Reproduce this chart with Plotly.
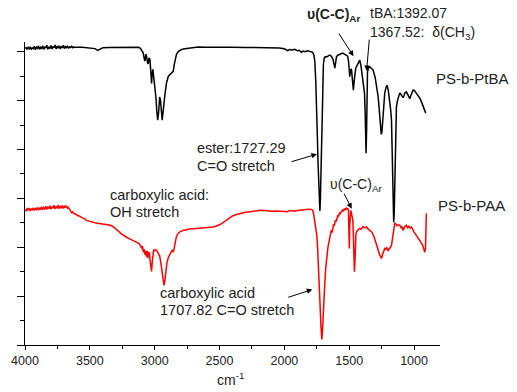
import plotly.graph_objects as go

# ---- FTIR spectra (wavenumber in cm-1, offset transmittance in arbitrary units) ----
ptba_wn = [4000, 3992, 3984, 3976, 3968, 3960, 3952, 3944, 3936, 3928, 3920, 3912, 3904, 3896, 3888, 3880,
           3872, 3864, 3856, 3848, 3840, 3832, 3824, 3816, 3808, 3800, 3792, 3784, 3776, 3768, 3760, 3752,
           3744, 3736, 3728, 3720, 3712, 3704, 3696, 3688, 3680, 3672, 3664, 3656, 3648, 3640, 3632, 3624,
           3616, 3608, 3600,
           3560, 3500, 3460, 3440, 3425, 3400, 3350, 3300, 3250, 3200, 3150, 3125, 3110, 3098, 3088, 3080,
           3075, 3068, 3062, 3055, 3050, 3044, 3037, 3030, 3024, 3019, 3014, 3008, 3000, 2991, 2984, 2977,
           2970, 2962, 2955, 2948, 2942, 2935, 2928, 2921, 2910, 2896, 2880, 2866, 2857, 2850, 2844, 2832,
           2819, 2800, 2780, 2740, 2700, 2667, 2600, 2500, 2400, 2300, 2200, 2100, 2040, 2000, 1975, 1960,
           1940, 1920, 1900, 1885, 1870, 1855, 1840, 1820, 1805, 1790, 1781, 1772, 1765, 1758, 1752, 1746,
           1740, 1734, 1729, 1726, 1722, 1716, 1710, 1704, 1699, 1692, 1684, 1675, 1662, 1650, 1638, 1626,
           1617, 1611, 1605, 1598, 1588, 1575, 1562, 1550, 1540, 1530, 1521, 1512, 1505, 1500, 1496, 1491,
           1486, 1482, 1477, 1472, 1468, 1462, 1455, 1449, 1444, 1432, 1419, 1410, 1403, 1398, 1392, 1387,
           1382, 1377, 1373, 1370, 1366, 1362, 1359, 1350, 1341, 1330, 1316, 1300, 1290, 1277, 1268, 1260,
           1253, 1248, 1240, 1232, 1226, 1216, 1208, 1198, 1188, 1180, 1174, 1169, 1164, 1160, 1157, 1153,
           1149, 1144, 1140, 1136, 1128, 1120, 1110, 1100, 1092, 1085, 1078, 1070, 1059, 1050, 1042, 1033,
           1025, 1017, 1008, 998, 988, 978, 969, 958, 948, 940, 931, 920, 910]
ptba_t = [12.14, 12.17, 12.11, 12.18, 12.12, 12.20, 12.09, 12.16, 12.13, 12.22, 12.08, 12.19, 12.14, 12.24, 12.10, 12.18,
          12.12, 12.25, 12.09, 12.21, 12.15, 12.27, 12.10, 12.20, 12.13, 12.26, 12.11, 12.22, 12.16, 12.28, 12.12, 12.21,
          12.15, 12.25, 12.12, 12.22, 12.16, 12.27, 12.13, 12.21, 12.17, 12.24, 12.14, 12.20, 12.18, 12.22, 12.17, 12.20,
          12.18, 12.19, 12.19,
          12.19, 12.17, 12.13, 12.06, 12.10, 12.16, 12.17, 12.18, 12.19, 12.20, 12.21, 12.19, 12.14, 12.05, 11.95, 11.70,
          11.62, 11.90, 11.80, 11.55, 11.50, 11.74, 11.70, 11.20, 10.70, 11.10, 11.28, 11.00, 10.70, 10.16, 9.60, 9.20,
          9.50, 10.15, 10.00, 9.50, 9.20, 9.55, 10.00, 10.25, 10.70, 10.98, 11.08, 11.14, 11.20, 11.45, 11.66, 11.90,
          12.00, 12.08, 12.11, 12.15, 12.18, 12.20, 12.19, 12.20, 12.19, 12.18, 12.18, 12.16, 12.15, 12.12, 12.05, 12.09,
          12.07, 12.10, 12.04, 12.06, 11.98, 12.03, 12.00, 12.04, 12.02, 12.01, 11.98, 11.85, 11.60, 10.80, 10.00, 8.60,
          7.40, 6.10, 5.55, 5.49, 6.00, 7.40, 9.00, 10.60, 11.50, 11.75, 11.80, 11.79, 11.84, 11.86, 11.82, 11.70,
          11.50, 11.33, 11.55, 11.80, 11.86, 11.90, 11.93, 11.95, 11.91, 11.88, 11.86, 11.82, 11.60, 11.20, 10.98, 11.20,
          11.30, 11.25, 10.90, 10.50, 10.43, 10.80, 11.20, 11.35, 11.39, 11.55, 11.66, 11.45, 11.10, 10.84, 10.60, 10.43,
          10.30, 9.50, 8.50, 7.85, 8.80, 10.50, 11.18, 11.35, 11.39, 11.33, 11.25, 10.95, 10.60, 10.16, 9.60, 9.00,
          8.62, 8.70, 9.40, 10.00, 10.31, 10.55, 10.63, 10.40, 10.00, 9.60, 9.20, 7.80, 6.30, 5.30, 5.02, 5.40,
          6.60, 8.20, 9.30, 9.75, 10.00, 10.20, 10.31, 10.25, 10.18, 10.12, 10.20, 10.32, 10.36, 10.28, 10.15, 10.08,
          10.20, 10.35, 10.43, 10.42, 10.35, 10.28, 10.23, 10.12, 10.02, 9.92, 9.81, 9.65, 9.49]

paa_wn = [4000, 3992, 3984, 3976, 3968, 3960, 3952, 3944, 3936, 3928, 3920, 3912, 3904, 3896, 3888, 3880,
          3872, 3864, 3856, 3848, 3840, 3832, 3824, 3816, 3808, 3800, 3792, 3784, 3776, 3768, 3760, 3752,
          3744, 3736, 3728, 3720, 3712, 3704, 3696, 3688, 3680, 3672, 3664, 3656, 3648, 3640, 3632, 3624,
          3610, 3596, 3582, 3568, 3554, 3540, 3526, 3512, 3498, 3483, 3460, 3440, 3420, 3400, 3368, 3340,
          3320, 3300, 3280, 3260, 3244, 3220, 3200, 3180, 3160, 3137, 3120, 3108, 3100, 3094, 3088, 3082,
          3076, 3070, 3064, 3058, 3052, 3046, 3040, 3034, 3029, 3024, 3019, 3014, 3008, 3000, 2992, 2985,
          2978, 2970, 2962, 2955, 2948, 2940, 2934, 2928, 2922, 2915, 2906, 2895, 2882, 2872, 2864, 2858,
          2850, 2842, 2834, 2822, 2806, 2782, 2760, 2740, 2720, 2700, 2680, 2651, 2620, 2600, 2575, 2550,
          2525, 2500, 2470, 2444, 2420, 2400, 2370, 2342, 2300, 2265, 2230, 2188, 2150, 2100, 2060, 2011,
          1980, 1960, 1940, 1920, 1900, 1870, 1850, 1830, 1810, 1795, 1782, 1774, 1766, 1758, 1750, 1744,
          1738, 1732, 1726, 1722, 1718, 1714, 1711, 1707, 1703, 1698, 1692, 1687, 1681, 1675, 1669, 1664,
          1657, 1650, 1644, 1638, 1632, 1627, 1620, 1614, 1608, 1600, 1594, 1588, 1582, 1575, 1568, 1560,
          1552, 1545, 1538, 1531, 1524, 1518, 1512, 1506, 1502, 1499, 1496, 1492, 1488, 1483, 1477, 1472,
          1468, 1464, 1460, 1456, 1452, 1448, 1440, 1430, 1419, 1408, 1394, 1380, 1367, 1355, 1340, 1325,
          1310, 1300, 1290, 1280, 1270, 1260, 1251, 1243, 1235, 1226, 1218, 1210, 1200, 1190, 1182, 1174,
          1165, 1157, 1149, 1140, 1130, 1120, 1110, 1100, 1092, 1085, 1078, 1070, 1059, 1050, 1040, 1030,
          1020, 1010, 1000, 990, 982, 972, 962, 952, 943, 935, 928, 922, 917, 912, 908, 905]
paa_t = [5.55, 5.50, 5.58, 5.52, 5.60, 5.49, 5.57, 5.53, 5.61, 5.50, 5.58, 5.55, 5.63, 5.52, 5.60, 5.56,
         5.66, 5.54, 5.62, 5.57, 5.68, 5.55, 5.64, 5.58, 5.70, 5.56, 5.66, 5.60, 5.72, 5.57, 5.65, 5.61,
         5.73, 5.58, 5.67, 5.62, 5.71, 5.59, 5.68, 5.64, 5.70, 5.60, 5.62, 5.55, 5.50, 5.42, 5.45, 5.38,
         5.36, 5.30, 5.28, 5.22, 5.19, 5.16, 5.10, 5.08, 5.05, 5.02, 5.00, 4.98, 4.97, 4.96, 4.94, 4.90,
         4.84, 4.76, 4.66, 4.56, 4.49, 4.42, 4.36, 4.31, 4.27, 4.20, 4.15, 4.05, 3.95, 4.05, 3.80, 3.92,
         3.70, 3.85, 3.62, 3.85, 3.55, 3.80, 3.75, 3.40, 3.10, 3.01, 3.40, 3.80, 3.88, 3.86, 3.90, 3.87,
         3.80, 3.75, 3.65, 3.45, 3.15, 2.80, 2.55, 2.44, 2.60, 3.00, 3.35, 3.58, 3.75, 3.82, 3.87, 3.80,
         3.95, 4.25, 4.40, 4.55, 4.63, 4.69, 4.72, 4.74, 4.76, 4.76, 4.77, 4.77, 4.79, 4.80, 4.81, 4.83,
         4.87, 4.92, 5.02, 5.12, 5.22, 5.28, 5.34, 5.38, 5.43, 5.45, 5.48, 5.51, 5.50, 5.47, 5.48, 5.47,
         5.45, 5.50, 5.48, 5.47, 5.50, 5.53, 5.52, 5.55, 5.56, 5.55, 5.52, 5.35, 5.10, 4.80, 4.50, 4.00,
         3.40, 2.70, 1.95, 1.30, 0.75, 0.30, 0.23, 0.50, 1.10, 1.70, 2.20, 2.64, 3.15, 3.55, 3.85, 4.00,
         4.20, 4.42, 4.55, 4.70, 4.60, 4.83, 4.95, 4.88, 5.10, 5.05, 5.22, 5.31, 5.25, 5.42, 5.38, 5.45,
         5.52, 5.47, 5.58, 5.52, 5.62, 5.55, 5.60, 5.50, 4.80, 3.95, 4.90, 5.45, 5.51, 5.40, 5.24, 5.10,
         4.50, 3.50, 3.00, 3.40, 4.20, 4.57, 4.66, 4.72, 4.77, 4.74, 4.85, 4.80, 4.83, 4.75, 4.70, 4.62,
         4.45, 4.30, 4.16, 3.95, 3.75, 3.60, 3.54, 3.70, 3.85, 3.95, 3.92, 3.98, 3.87, 3.92, 4.00, 4.08,
         4.40, 4.80, 4.98, 4.95, 4.88, 4.92, 4.90, 4.80, 4.85, 4.69, 4.78, 4.85, 4.90, 4.80, 4.86, 4.78,
         4.83, 4.70, 4.62, 4.55, 4.49, 4.42, 4.32, 4.26, 4.21, 4.10, 3.98, 3.88, 3.80, 3.95, 4.40, 5.38]

x_ticks = [4000, 3500, 3000, 2500, 2000, 1500, 1000]

FONT = "Liberation Sans, Arial, sans-serif"

fig = go.Figure()
fig.add_trace(go.Scatter(x=ptba_wn, y=ptba_t, mode="lines", name="PS-b-PtBA",
                         line=dict(color="#000000", width=1.5), showlegend=False))
fig.add_trace(go.Scatter(x=paa_wn, y=paa_t, mode="lines", name="PS-b-PAA",
                         line=dict(color="#ff0000", width=1.5), showlegend=False))

# text labels (paper coordinates): text, x, y, font size
labels = [
    ("<b>υ(C-C)<sub>Ar</sub></b>", 0.675, 1.089, 14),
    ("tBA:1392.07", 0.827, 1.096, 14),
    ("1367.52:  δ(CH<sub>3</sub>)", 0.827, 1.030, 14),
    ("PS-b-PtBA", 0.986, 0.878, 15),
    ("ester:1727.29", 0.410, 0.649, 14.5),
    ("C=O stretch", 0.410, 0.590, 14.5),
    ("υ(C-C)<sub>Ar</sub>", 0.730, 0.527, 14),
    ("PS-b-PAA", 0.990, 0.461, 15),
    ("carboxylic acid:", 0.200, 0.494, 14.5),
    ("OH stretch", 0.200, 0.438, 14.5),
    ("carboxylic acid", 0.320, 0.170, 14.5),
    ("1707.82 C=O stretch", 0.320, 0.117, 14.5),
]
for txt, xp, yp, fs in labels:
    fig.add_annotation(text=txt, x=xp, y=yp, xref="paper", yref="paper",
                       xanchor="left", yanchor="middle", showarrow=False,
                       font=dict(family=FONT, size=fs, color="#222222"))

fig.add_annotation(text="cm<sup>-1</sup>", x=0.494, y=-0.112, xref="paper", yref="paper",
                   xanchor="center", yanchor="middle", showarrow=False,
                   font=dict(family=FONT, size=14, color="#222222"))

# arrows pointing at the assigned bands (head in data units, tail offset in px)
arrows = [
    (1467, 11.82, -15.5, -24),
    (1366, 11.21, 2.8, -33),
    (1749, 7.81, -27, 8),
    (1481, 5.58, -8.4, -16.6),
    (1785, 2.27, -25.6, 8.3),
]
for xh, yh, dx, dy in arrows:
    fig.add_annotation(x=xh, y=yh, xref="x", yref="y", ax=dx, ay=dy,
                       axref="pixel", ayref="pixel", text="", showarrow=True,
                       arrowhead=2, arrowsize=1.1, arrowwidth=1, arrowcolor="#000000",
                       standoff=0, startstandoff=0)

fig.update_layout(
    width=517, height=392,
    margin=dict(l=25, r=77, t=42, b=47),
    paper_bgcolor="white", plot_bgcolor="white",
    font=dict(family=FONT, size=12, color="#222222"),
    xaxis=dict(range=[4000, 800], tickvals=x_ticks, ticks="outside", ticklen=4,
               tickwidth=1, tickcolor="#000000", showline=True, linecolor="#000000",
               linewidth=1, showgrid=False, zeroline=False,
               minor=dict(dtick=250, tick0=0, ticks="outside", ticklen=3, tickcolor="#000000"),
               tickfont=dict(family=FONT, size=12.5, color="#222222")),
    yaxis=dict(range=[0, 12.4], dtick=2, tick0=0, ticks="outside", ticklen=7,
               tickwidth=1, tickcolor="#000000", showline=True, linecolor="#000000",
               linewidth=1, showgrid=False, zeroline=False, showticklabels=False,
               minor=dict(dtick=1, tick0=0, ticks="outside", ticklen=4, tickcolor="#000000")),
)

fig.write_html("out.html")
